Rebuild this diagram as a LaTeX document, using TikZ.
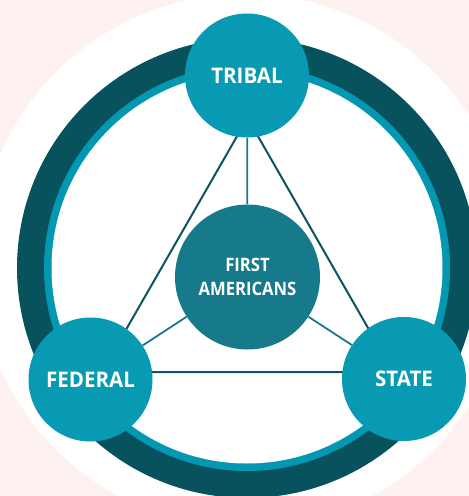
\documentclass[tikz,border=0pt]{standalone}
\usepackage{fontspec}
\setmainfont{Open Sans}
\newfontfamily\outerfont{Open Sans}[FakeStretch=0.955]
\newfontfamily\centrefont{Open Sans}[FakeStretch=0.9]
\definecolor{bgpink}{RGB}{253,242,240}
\definecolor{ringdark}{RGB}{8,82,94}
\definecolor{ringlight}{RGB}{4,151,178}
\definecolor{nodeblue}{RGB}{8,153,179}
\definecolor{nodecenter}{RGB}{22,122,138}
\definecolor{linedark}{RGB}{11,84,96}
\definecolor{linespoke}{RGB}{23,122,138}
\pgfdeclarelayer{bottomlayer}
\pgfdeclarelayer{midlayer}
\pgfsetlayers{bottomlayer,midlayer,main}
\tikzset{
  outer/.style={circle, fill=nodeblue, minimum size=124pt, inner sep=0pt,
    text=white, font=\outerfont\fontsize{21.5}{24}\selectfont\bfseries},
  centre/.style={circle, fill=nodecenter, minimum size=145pt, inner sep=0pt,
    text=white, align=center, font=\centrefont\fontsize{18.5}{24}\selectfont\bfseries},
  tri/.style={draw=linedark, line width=2pt},
  spoke/.style={draw=linespoke, line width=1.8pt}
}
\begin{document}
\begin{tikzpicture}[x=1pt,y=-1pt]
\useasboundingbox (0,0) rectangle (469,496);
\begin{pgfonlayer}{bottomlayer}
\fill[bgpink] (0,0) rectangle (469,496);
\fill[white] (245,261) circle[radius=267];
\fill[ringdark] (247,268) circle[radius=230];
\fill[ringlight] (247,268) circle[radius=203];
\fill[white] (247,268) circle[radius=195.5];
\end{pgfonlayer}
\node[outer] (tribal) at (247,75.5) {TRIBAL};
\node[outer] (federal) at (90.5,379.5) {FEDERAL};
\node[outer] (state) at (404,379) {STATE};
\node[centre] (first) at (247.5,277) {FIRST\\AMERICANS};
\coordinate (tA) at (247.5,118);
\coordinate (tB) at (101.7,372);
\coordinate (tC) at (393.3,372);
\begin{pgfonlayer}{midlayer}
\draw[tri] (tA) -- (tB) -- (tC) -- cycle;
\draw[spoke] (first) -- (tribal);
\draw[spoke] (first) -- (federal);
\draw[spoke] (first) -- (state);
\end{pgfonlayer}
\end{tikzpicture}
\end{document}
